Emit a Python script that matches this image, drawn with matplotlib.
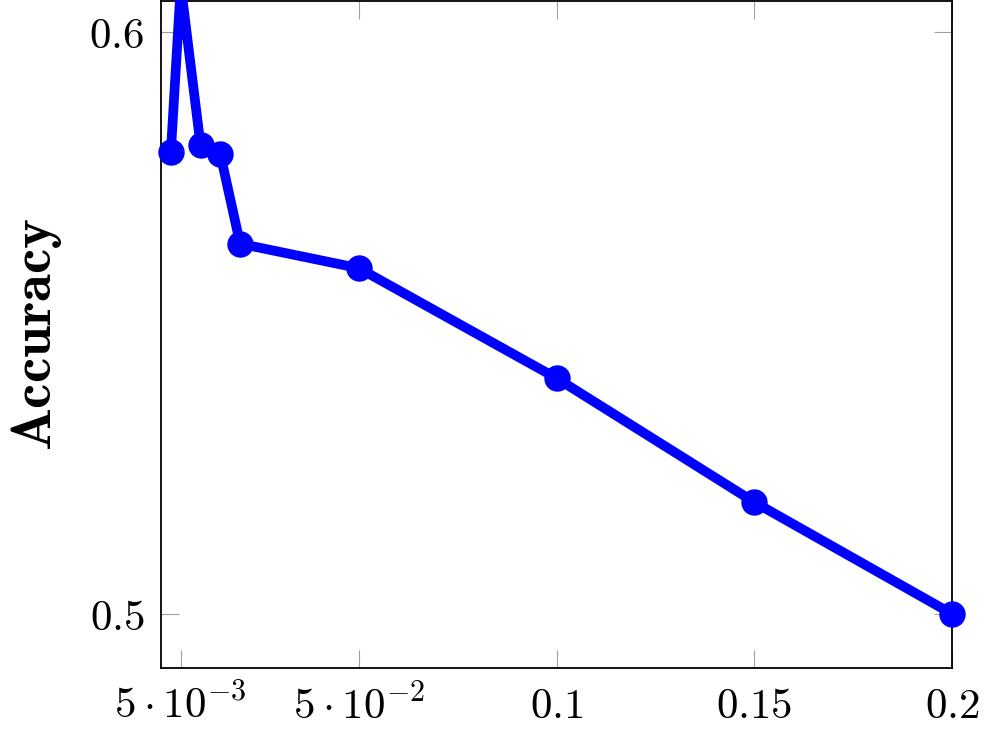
import matplotlib
matplotlib.use('Agg')
import matplotlib.pyplot as plt

plt.rcParams['mathtext.fontset'] = 'cm'

# data
ratio = [0.0025, 0.005, 0.01, 0.015, 0.02, 0.05, 0.1, 0.15, 0.2]
accuracy = [0.5794, 0.608, 0.5805, 0.579, 0.5636, 0.5594, 0.5405, 0.5192, 0.500]

xticks = [0.005, 0.05, 0.1, 0.15, 0.2]
xtick_labels = [r'$5\cdot10^{-3}$', r'$5\cdot10^{-2}$', r'$0.1$', r'$0.15$', r'$0.2$']
yticks = [0.5, 0.6]
ytick_labels = [r'$0.5$', r'$0.6$']

fig = plt.figure(figsize=(9.95, 7.34), dpi=100)
ax = fig.add_axes([161 / 995, 1 - 668 / 734, (952 - 161) / 995, (668 - 1) / 734])

# markers are not clipped by the axis box (pgfplots style)
ax.plot(ratio, accuracy, color=(0, 0, 1), linewidth=7, marker='o',
        markersize=18, clip_on=False, zorder=3)

ax.set_xlim(0, 0.2)
ax.set_ylim(0.4907, 0.6053)

ax.set_xticks(xticks)
ax.set_xticklabels(xtick_labels, fontsize=31)
ax.set_yticks(yticks)
ax.set_yticklabels(ytick_labels, fontsize=31)
ax.tick_params(direction='in', length=13, width=0.8, color='#a0a0a0',
               top=True, right=True, pad=12)

for s in ax.spines.values():
    s.set_linewidth(1.3)

ax.set_ylabel(r'$\mathbf{Accuracy}$', fontsize=41, labelpad=18)

fig.savefig('out.png', dpi=100)
